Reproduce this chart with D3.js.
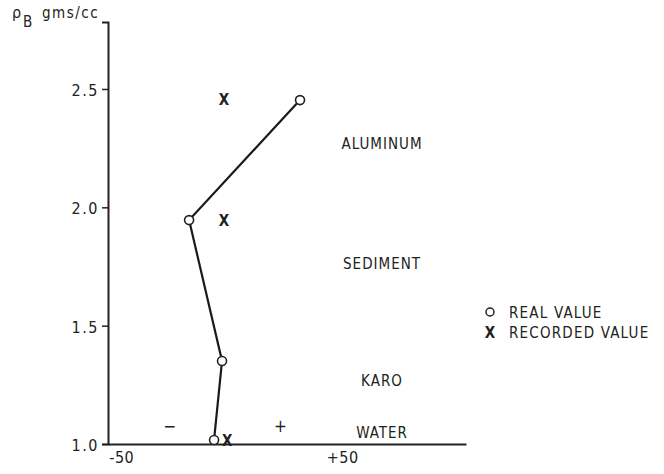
<!DOCTYPE html>
<html lang="en">
<head>
<meta charset="UTF-8">
<title>Density calibration</title>
<style>
  body { margin: 0; background: #fff; }
  svg text { font-family: "DejaVu Sans Condensed", "DejaVu Sans", sans-serif; fill: #222; }
</style>
</head>
<body>
<div id="chart"></div>
<script src="https://d3js.org/d3.v7.min.js"></script>
<script>
// real values (circles, joined by line)
const realX = [30.9, -19.3, -4.4, -8.0];
const realY = [2.453, 1.946, 1.351, 1.017];
// recorded values (x marks)
const recX = [-3.5, -3.5, -2.1];
const recY = [2.453, 1.941, 1.013];
// material labels
const materials = ["ALUMINUM", "SEDIMENT", "KARO", "WATER"];
const matY = [2.27, 1.765, 1.27, 1.05];
const matX = 68;
const yTicks = [1.0, 1.5, 2.0, 2.5];
const xTicks = [-50, 50];
const xTickLabels = ["-50", "+50"];
const legendItems = ["REAL VALUE", "RECORDED VALUE"];

const width = 664, height = 474;
const svg = d3.select("#chart").append("svg")
  .attr("width", width).attr("height", height);

const x = d3.scaleLinear().domain([-56, 106]).range([108, 466]);
const y = d3.scaleLinear().domain([1.0, 2.783]).range([444, 22]);

// y axis
const yAxis = svg.append("g").attr("transform", `translate(${x(-56)},0)`)
  .call(d3.axisLeft(y).tickValues(yTicks).tickFormat(d3.format(".1f")).tickSize(6).tickPadding(3));
yAxis.select(".domain").attr("stroke", "#222").attr("stroke-width", 2);
yAxis.selectAll(".tick line").attr("stroke", "#222").attr("stroke-width", 1.5);
yAxis.selectAll(".tick text").style("font-size", "16px").attr("dy", "0.4em").attr("letter-spacing", "1.5px").attr("fill", "#222");

// x axis
const xAxis = svg.append("g").attr("transform", `translate(0,${y(1.0)})`)
  .call(d3.axisBottom(x).tickValues(xTicks).tickFormat((d, i) => xTickLabels[i]).tickSize(0).tickPadding(8));
xAxis.select(".domain").attr("stroke", "#222").attr("stroke-width", 2);
xAxis.selectAll(".tick text").style("font-size", "16px").attr("letter-spacing", "0.5px").attr("fill", "#222");

// axis title
svg.append("text").attr("x", 12).attr("y", 18).style("font-size", "16px").text("ρ");
svg.append("text").attr("x", 23).attr("y", 27).style("font-size", "15px").text("B");
svg.append("text").attr("x", 42).attr("y", 18).style("font-size", "15px").attr("letter-spacing", "1.5px").text("gms/cc");

// sign markers
svg.append("text").attr("x", x(-28)).attr("y", y(1.05)).attr("text-anchor", "middle").style("font-size", "17px").text("−");
svg.append("text").attr("x", x(22)).attr("y", y(1.05)).attr("text-anchor", "middle").style("font-size", "17px").text("+");

// real value line
const pts = realX.map((v, i) => [x(v), y(realY[i])]);
svg.append("path").attr("d", d3.line()(pts))
  .attr("fill", "none").attr("stroke", "#1a1a1a").attr("stroke-width", 2.2);
svg.selectAll("circle.real").data(pts).enter().append("circle")
  .attr("class", "real").attr("cx", d => d[0]).attr("cy", d => d[1]).attr("r", 4.5)
  .attr("fill", "#fff").attr("stroke", "#222").attr("stroke-width", 1.6);

// recorded marks
svg.selectAll("text.rec").data(recX).enter().append("text")
  .attr("class", "rec").attr("x", d => x(d)).attr("y", (d, i) => y(recY[i]) + 5)
  .attr("text-anchor", "middle").style("font-size", "15px").style("font-weight", "bold").text("X");

// material labels
svg.selectAll("text.mat").data(materials).enter().append("text")
  .attr("class", "mat").attr("x", x(matX)).attr("y", (d, i) => y(matY[i]) + 6)
  .attr("text-anchor", "middle").style("font-size", "15px").attr("letter-spacing", "1px").text(d => d);

// legend
const lg = svg.append("g").attr("transform", "translate(490,312)");
lg.append("circle").attr("cx", 0).attr("cy", 0).attr("r", 4).attr("fill", "#fff").attr("stroke", "#222").attr("stroke-width", 1.5);
lg.append("text").attr("x", 0).attr("y", 26).attr("text-anchor", "middle").style("font-size", "15px").style("font-weight", "bold").text("X");
lg.selectAll("text.leg").data(legendItems).enter().append("text")
  .attr("class", "leg").attr("x", 19).attr("y", (d, i) => 6 + i * 20)
  .style("font-size", "15px").attr("letter-spacing", "1.2px").text(d => d);
</script>
</body>
</html>
